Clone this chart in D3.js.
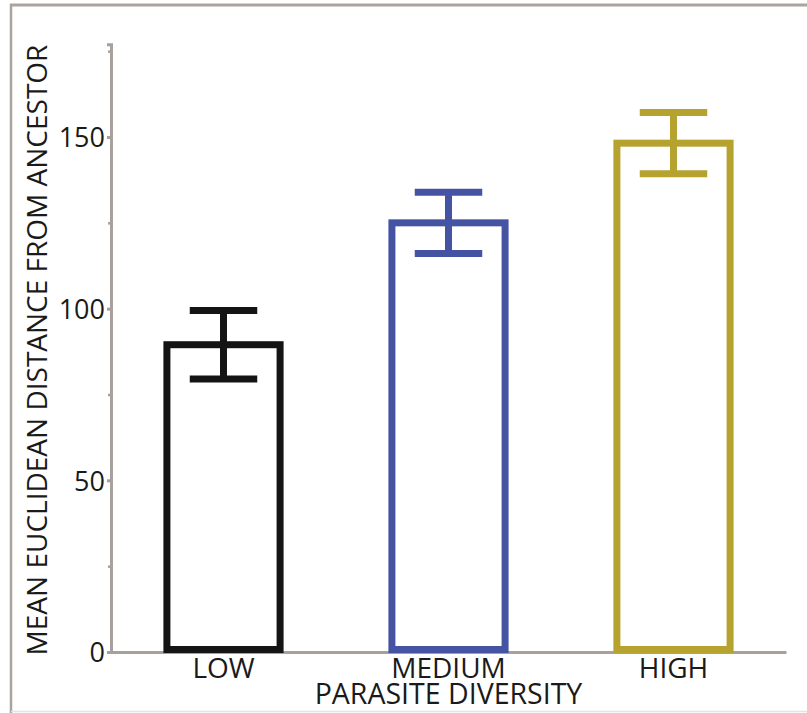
<!DOCTYPE html>
<html>
<head>
<meta charset="utf-8">
<script src="https://cdn.jsdelivr.net/npm/d3@7"></script>
<style>
  html, body { margin: 0; padding: 0; background: #fff; }
  svg { display: block; }
</style>
</head>
<body>
<svg id="chart" width="807" height="713"></svg>
<script>
const categories = ["LOW", "MEDIUM", "HIGH"];
const means = [89.5, 125, 148.2];
const errors = [10, 8.9, 8.9];
const colors = ["#141414", "#4553a3", "#b5a22f"];
const majorTicks = [0, 50, 100, 150];
const minorTicks = [25, 75, 125, 175];
const yLabel = "MEAN EUCLIDEAN DISTANCE FROM ANCESTOR";
const xLabel = "PARASITE DIVERSITY";

const svg = d3.select("#chart");
const axisColor = "#a7a09c";
const font = "'Open Sans', sans-serif";

// frame
svg.append("line").attr("x1", 10).attr("x2", 807).attr("y1", 5).attr("y2", 5)
  .attr("stroke", "#aaa39f").attr("stroke-width", 3);
svg.append("line").attr("x1", 11).attr("x2", 11).attr("y1", 4).attr("y2", 713)
  .attr("stroke", "#aaa39f").attr("stroke-width", 2.5);
svg.append("line").attr("x1", 11).attr("x2", 807).attr("y1", 711.5).attr("y2", 711.5)
  .attr("stroke", "#e6e3e1").attr("stroke-width", 1.5);

const x0 = 111, x1 = 786, yBase = 652;
const y = d3.scaleLinear().domain([0, 177]).range([yBase, yBase - 177 * (515 / 150)]);
const x = d3.scaleBand().domain(categories).range([x0, x1]).padding(0);

// y axis (major with labels)
const gy = svg.append("g").attr("transform", `translate(${x0},0)`)
  .call(d3.axisLeft(y).tickValues(majorTicks).tickSize(4).tickPadding(2).tickFormat(d3.format("d")));
gy.select(".domain").attr("stroke", axisColor).attr("stroke-width", 3);
gy.selectAll(".tick line").attr("stroke", axisColor).attr("stroke-width", 3);
gy.selectAll(".tick text").attr("font-family", font)
  .attr("font-size", 27).attr("fill", "#1a1a1a").attr("dy", "0.36em");

// minor ticks
const gm = svg.append("g").attr("transform", `translate(${x0},0)`)
  .call(d3.axisLeft(y).tickValues(minorTicks).tickSize(3).tickFormat(""));
gm.select(".domain").remove();
gm.selectAll(".tick line").attr("stroke", axisColor).attr("stroke-width", 2.5);

// x axis
const gx = svg.append("g").attr("transform", `translate(0,${yBase})`)
  .call(d3.axisBottom(x).tickSize(0).tickPadding(6));
gx.select(".domain").attr("stroke", axisColor).attr("stroke-width", 3);
gx.selectAll(".tick text").attr("font-family", font)
  .attr("font-size", 28).attr("fill", "#1a1a1a").attr("dy", "0.71em");

const barW = x.bandwidth() * 0.503;
const capW = x.bandwidth() * 0.3;
const sw = 7;

const g = svg.append("g");
categories.forEach((c, i) => {
  const cx = x(c) + x.bandwidth() / 2;
  g.append("rect")
    .attr("x", cx - barW / 2).attr("width", barW)
    .attr("y", y(means[i])).attr("height", y(0) - y(means[i]) - sw / 2 + 1)
    .attr("fill", "#fff").attr("stroke", colors[i]).attr("stroke-width", sw);
  const hi = means[i] + errors[i], lo = means[i] - errors[i];
  g.append("line").attr("x1", cx).attr("x2", cx).attr("y1", y(hi)).attr("y2", y(lo))
    .attr("stroke", colors[i]).attr("stroke-width", sw);
  [hi, lo].forEach(v => {
    g.append("line").attr("x1", cx - capW / 2).attr("x2", cx + capW / 2)
      .attr("y1", y(v)).attr("y2", y(v))
      .attr("stroke", colors[i]).attr("stroke-width", sw);
  });
});

// axis titles
svg.append("text")
  .attr("transform", `translate(47,${(655 + 45) / 2}) rotate(-90)`)
  .attr("text-anchor", "middle")
  .attr("font-family", font).attr("font-size", 28)
  .attr("fill", "#1a1a1a").text(yLabel);

svg.append("text")
  .attr("x", (x(categories[1]) + x.bandwidth() / 2)).attr("y", 704)
  .attr("text-anchor", "middle")
  .attr("font-family", font).attr("font-size", 28.5)
  .attr("fill", "#1a1a1a").text(xLabel);
</script>
</body>
</html>
